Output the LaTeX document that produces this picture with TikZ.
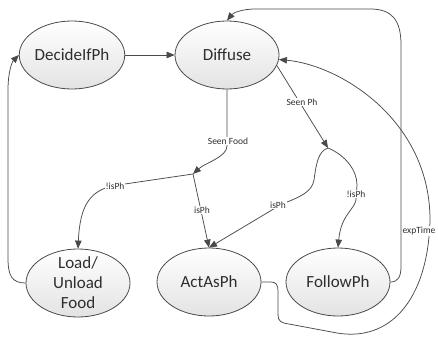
\documentclass[tikz,border=0pt]{standalone}
\usepackage{fontspec}
\setmainfont{Carlito}
\usetikzlibrary{shapes.geometric,arrows.meta}
\definecolor{edgec}{HTML}{4A4A4A}
\definecolor{textc}{HTML}{2E2E2E}
\begin{document}
\begin{tikzpicture}[x=1pt,y=-1pt,
  state/.style={ellipse,draw=edgec,line width=0.8pt,top color=white,bottom color=black!11,
    minimum width=104pt,minimum height=68pt,inner sep=0pt,
    font=\fontsize{17}{20}\selectfont,text=textc,align=center},
  statetext/.style={inner sep=0pt,font=\fontsize{17}{20}\selectfont,text=textc,align=center},
  arr/.style={draw=edgec,line width=0.75pt,-{Triangle[length=8pt,width=6.5pt]}},
  lbl/.style={fill=white,inner sep=1pt,font=\fontsize{9.5}{11}\selectfont,text=textc}]
\useasboundingbox (0,0) rectangle (438,339);
\fill[white] (0,0) rectangle (438,339);

% states
\node[state] (dec) at (72,55) {DecideIfPh};
\node[state] (dif) at (227,55) {Diffuse};
\node[state] (load) at (78,283) {};
\node[statetext] (loadtxt) at (load.center) {Load/\\Unload\\Food};
\node[state] (act) at (209,282) {ActAsPh};
\node[state] (fol) at (338,282) {FollowPh};

% junctions
\coordinate (j1) at (193,174);
\coordinate (j2) at (328,148);

% connectors
\draw[arr] (dec) -- (dif);
\draw[arr] (load.west) .. controls (12,283) and (8,276) .. (8,258) -- (8,90)
  .. controls (8,72) and (12,62) .. (dec.west);
\draw[arr] (fol.east) .. controls (398,282) and (401,277) .. (401,266) -- (401,45)
  .. controls (401,20) and (392,9) .. (370,9) -- (255,9)
  .. controls (242,9) and (233,13) .. (dif.north);
\draw[arr] (act.east) -- (271,282) .. controls (276,282) and (278,285) .. (278,291)
  -- (278,315) .. controls (278,321) and (281,323) .. (289,324) -- (337,333)
  .. controls (390,342) and (428,300) .. (430,220)
  .. controls (430,120) and (340,65) .. (dif.-5);
\draw[arr] (dif.south) -- (227,146) .. controls (227,157) and (205,163) .. (j1);
\draw[arr] (j1) -- (118,185) .. controls (90,189) and (80,205) .. (load.north);
\draw[arr] (j1) -- (act.north);
\draw[arr] (dif.-12) -- (j2);
\draw[arr] (j2) .. controls (318,151) and (316,165) .. (314,180)
  .. controls (312,192) and (300,197) .. (282,204) -- (act.north);
\draw[arr] (j2) .. controls (345,155) and (357,170) .. (357,185) -- (356,200)
  .. controls (354,210) and (341,215) .. (fol.north);

% labels
\node[lbl] (l1) at (228,141) {Seen Food};
\node[lbl] (l2) at (115,186) {!isPh};
\node[lbl] (l3) at (202,210) {isPh};
\node[lbl] (l4) at (302,102) {Seen Ph};
\node[lbl] (l5) at (278,205) {isPh};
\node[lbl] (l6) at (356,194) {!isPh};
\node[lbl] (l7) at (419,231) {expTime};
\end{tikzpicture}
\end{document}
